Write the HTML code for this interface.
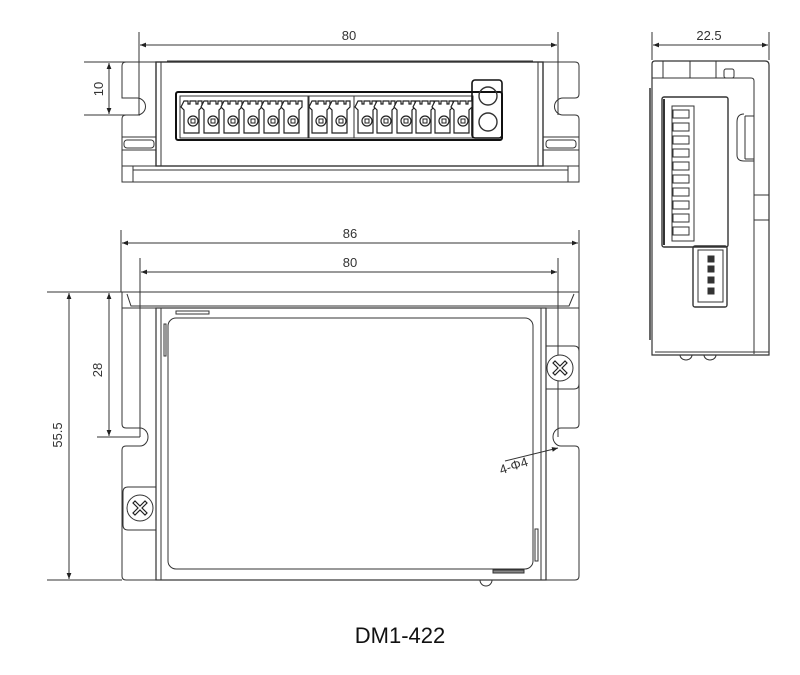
<!DOCTYPE html>
<html><head><meta charset="utf-8"><style>
html,body{margin:0;padding:0;background:#fff;}
svg{display:block;font-family:"Liberation Sans",sans-serif;}
</style></head><body>
<svg width="800" height="675" viewBox="0 0 800 675" xmlns="http://www.w3.org/2000/svg">
<defs>
<marker id="a" viewBox="0 0 10 10" refX="10" refY="5" markerWidth="8" markerHeight="6" orient="auto-start-reverse"><path d="M0,1 L10,5 L0,9 z" fill="#222"/></marker>
<g id="plug">
<path d="M1,0 h4 v3 h2 v-3 h6 v3 h2 v-3 h4 v6 l-3,3 v23 h-12 h-3 v-23 l-3,-3z" fill="#fff" stroke="#222" stroke-width="1.2"/>
<circle cx="10" cy="20" r="5" fill="none" stroke="#222" stroke-width="1.2"/>
<rect x="8" y="18" width="4" height="4" fill="none" stroke="#222" stroke-width="1"/>
</g>
<g id="screw">
<circle r="13" fill="#fff" stroke="#333" stroke-width="1"/>
<path d="M-7,-5 l2,-2 l5,5 l5,-5 l2,2 l-5,5 l5,5 l-2,2 l-5,-5 l-5,5 l-2,-2 l5,-5z" fill="#fff" stroke="#222" stroke-width="1.2"/>
</g>
</defs>
<g fill="none" stroke="#333" stroke-width="1">
<!-- TOP VIEW -->
<line x1="139" y1="32" x2="139" y2="115"/><line x1="558" y1="32" x2="558" y2="115"/>
<line x1="140" y1="45" x2="557" y2="45" marker-start="url(#a)" marker-end="url(#a)"/>
<line x1="84" y1="62" x2="140" y2="62"/><line x1="84" y1="115" x2="140" y2="115"/>
<line x1="109" y1="63" x2="109" y2="114" marker-start="url(#a)" marker-end="url(#a)"/>
<path d="M156,62 H126 Q122,62 122,66 V98 H137 A8,8 0 0 1 137,115 H126 Q122,115 122,119 V182 H579 V119 Q579,115 575,115 H563 A8,8 0 0 1 563,98 H575 Q579,98 579,94 V66 Q579,62 575,62 H543"/>
<rect x="156" y="62" width="387" height="104" stroke-width="1.4"/>
<line x1="161" y1="62" x2="161" y2="166"/><line x1="538" y1="62" x2="538" y2="166"/>
<line x1="167" y1="61" x2="533" y2="61"/>
<line x1="122" y1="166" x2="579" y2="166"/><line x1="133" y1="170" x2="568" y2="170"/><line x1="133" y1="166" x2="133" y2="182"/><line x1="568" y1="166" x2="568" y2="182"/>
<rect x="124" y="140" width="30" height="8" rx="3"/><rect x="546" y="140" width="30" height="8" rx="3"/>
<line x1="122" y1="137" x2="156" y2="137"/><line x1="543" y1="137" x2="579" y2="137"/>
<line x1="122" y1="150" x2="156" y2="150"/><line x1="543" y1="150" x2="579" y2="150"/>
<rect x="176" y="92" width="326" height="48" rx="2" stroke="#111" stroke-width="2"/>
<rect x="180" y="96" width="128" height="42" stroke-width="1"/>
<rect x="309" y="96" width="45" height="42"/>
<rect x="354" y="96" width="119" height="42"/>
<rect x="472" y="80" width="30" height="58" rx="3" stroke="#111" stroke-width="1.6"/>
<circle cx="488" cy="96" r="9" stroke-width="1.4"/><circle cx="488" cy="122" r="9" stroke-width="1.4"/>
</g>
<g>
<use href="#plug" x="183" y="101"/><use href="#plug" x="203" y="101"/><use href="#plug" x="223" y="101"/><use href="#plug" x="243" y="101"/><use href="#plug" x="263" y="101"/><use href="#plug" x="283" y="101"/>
<use href="#plug" x="311" y="101"/><use href="#plug" x="331" y="101"/>
<use href="#plug" x="357" y="101"/><use href="#plug" x="376" y="101"/><use href="#plug" x="396" y="101"/><use href="#plug" x="415" y="101"/><use href="#plug" x="434" y="101"/><use href="#plug" x="453" y="101"/>
</g>
<g fill="#333" font-size="13" text-anchor="middle">
<text x="349" y="40">80</text>
<text transform="translate(103,89) rotate(-90)">10</text>
</g>

<!-- SIDE VIEW -->
<g fill="none" stroke="#333" stroke-width="1">
<line x1="652" y1="32" x2="652" y2="60"/><line x1="769" y1="32" x2="769" y2="60"/>
<line x1="653" y1="45" x2="768" y2="45" marker-start="url(#a)" marker-end="url(#a)"/>
<path d="M652,355 V64 Q652,61 655,61 H765 Q769,61 769,65 V355 Z" stroke-width="1.2"/>
<path d="M652,78 H751 Q754,78 754,81 V354"/>
<line x1="655" y1="352" x2="769" y2="352"/>
<line x1="663" y1="61" x2="663" y2="78"/><line x1="690" y1="61" x2="690" y2="78"/><line x1="716" y1="61" x2="716" y2="78"/>
<rect x="724" y="69" width="10" height="9" rx="2"/>
<line x1="650" y1="88" x2="650" y2="340" stroke-width="1.5"/>
<rect x="662" y="97" width="66" height="150" rx="2" stroke-width="1.4"/>
<line x1="664" y1="99" x2="664" y2="245" stroke-width="2"/>
<rect x="672" y="106" width="22" height="135"/>
<g stroke-width="1">
<rect x="673" y="110" width="16" height="8"/><rect x="673" y="123" width="16" height="8"/><rect x="673" y="136" width="16" height="8"/><rect x="673" y="149" width="16" height="8"/><rect x="673" y="162" width="16" height="8"/><rect x="673" y="175" width="16" height="8"/><rect x="673" y="188" width="16" height="8"/><rect x="673" y="201" width="16" height="8"/><rect x="673" y="214" width="16" height="8"/><rect x="673" y="227" width="16" height="8"/>
</g>
<rect x="693" y="246" width="34" height="61" rx="2" stroke-width="1.4"/>
<rect x="698" y="250" width="25" height="52"/>
<rect x="708" y="256" width="6" height="6" fill="#333"/><rect x="708" y="266" width="6" height="6" fill="#333"/><rect x="708" y="277" width="6" height="6" fill="#333"/><rect x="708" y="288" width="6" height="6" fill="#333"/>
<path d="M744,114 Q737,114 737,122 V155 Q737,161 744,161 H754"/><path d="M745,116 H754 M745,159 H754 M745,116 V159"/>
<line x1="754" y1="195" x2="769" y2="195"/><line x1="754" y1="220" x2="769" y2="220"/>
<path d="M680,355 A6,5 0 0 0 692,355 M704,355 A6,5 0 0 0 716,355"/>
</g>
<text x="709" y="40" fill="#333" font-size="13" text-anchor="middle">22.5</text>

<!-- BOTTOM VIEW -->
<g fill="none" stroke="#333" stroke-width="1">
<line x1="121" y1="230" x2="121" y2="292"/><line x1="579" y1="230" x2="579" y2="292"/>
<line x1="122" y1="243" x2="578" y2="243" marker-start="url(#a)" marker-end="url(#a)"/>
<line x1="140" y1="258" x2="140" y2="437"/><line x1="558" y1="258" x2="558" y2="437"/>
<line x1="141" y1="272" x2="557" y2="272" marker-start="url(#a)" marker-end="url(#a)"/>
<line x1="47" y1="292" x2="122" y2="292"/><line x1="47" y1="580" x2="122" y2="580"/>
<line x1="69" y1="293" x2="69" y2="579" marker-start="url(#a)" marker-end="url(#a)"/>
<line x1="97" y1="437" x2="140" y2="437"/>
<line x1="109" y1="293" x2="109" y2="436" marker-start="url(#a)" marker-end="url(#a)"/>
<path d="M122,292 H579 V308 H122 Z"/>
<path d="M127,294 L131,306 H569 L574,294"/>
<path d="M122,308 V424 Q122,428 126,428 H140 A8,9 0 0 1 140,446 H126 Q122,446 122,450 V576 Q122,580 126,580 H575 Q579,580 579,576 V450 Q579,446 575,446 H561 A8,9 0 0 1 561,428 H575 Q579,428 579,424 V308"/>
<rect x="156" y="308" width="390" height="272" stroke-width="1.2"/>
<line x1="161" y1="308" x2="161" y2="580"/><line x1="541" y1="308" x2="541" y2="580"/>
<rect x="168" y="318" width="365" height="251" rx="8"/>
<rect x="176" y="311" width="33" height="3"/>
<rect x="164" y="324" width="2" height="32"/>
<rect x="535" y="529" width="3" height="32"/>
<rect x="493" y="570" width="31" height="3" fill="#888"/>
<path d="M480,580 A6,6 0 0 0 492,580"/>
<path d="M156,487 H128 Q123,487 123,492 V525 Q123,530 128,530 H156"/>
<path d="M546,346 H574 Q579,346 579,351 V384 Q579,389 574,389 H546"/>
<line x1="505" y1="461" x2="558" y2="448" marker-end="url(#a)"/>
</g>
<use href="#screw" x="140" y="508"/>
<use href="#screw" x="560" y="368"/>
<g fill="#333" font-size="13" text-anchor="middle">
<text x="350" y="238">86</text>
<text x="350" y="267">80</text>
<text transform="translate(62,435) rotate(-90)">55.5</text>
<text transform="translate(102,370) rotate(-90)">28</text>
<text transform="translate(515,470) rotate(-18)">4-Φ4</text>
</g>
<text x="400" y="643" fill="#111" font-size="22" text-anchor="middle">DM1-422</text>
</svg>
</body></html>
